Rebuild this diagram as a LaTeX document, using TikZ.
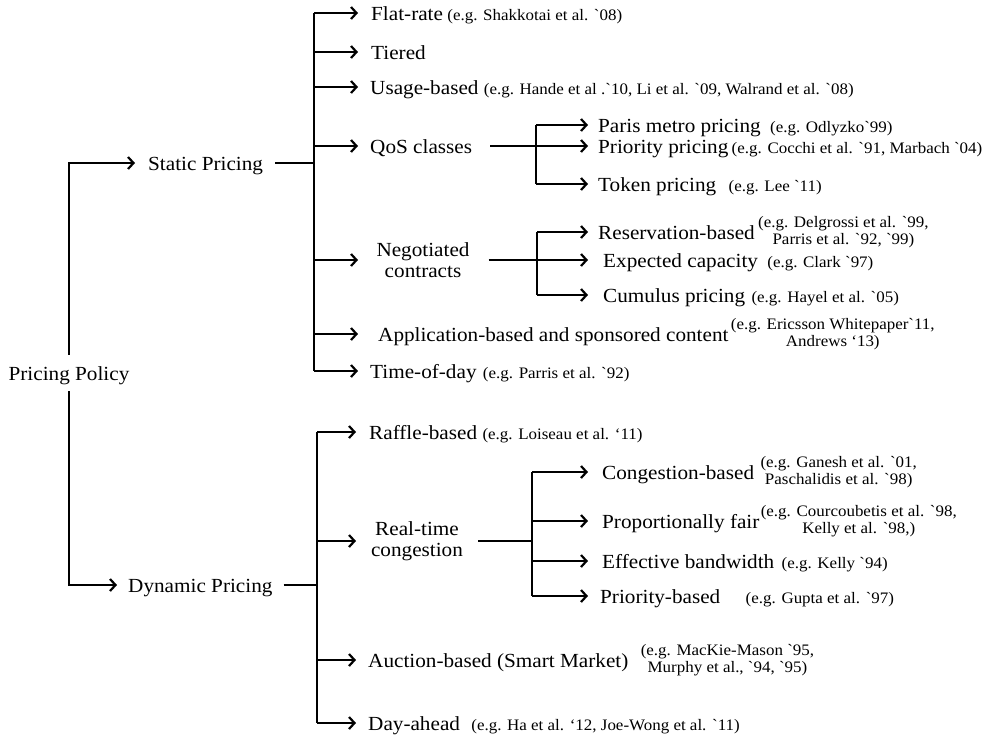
\documentclass[tikz,border=0pt]{standalone}
\usepackage{fontspec}
\newfontfamily\cf[FakeStretch=1.06]{Liberation Serif}
\usetikzlibrary{arrows.meta}
\tikzset{
  lab/.style={inner sep=0pt, anchor=west, font=\cf\fontsize{20}{21.5}\selectfont, text height=16pt, text depth=1pt},
  labtwo/.style={inner sep=0pt, align=center, font=\cf\fontsize{20}{21.5}\selectfont},
  cite/.style={inner sep=0pt, anchor=base west, font=\cf\fontsize{16}{17}\selectfont},
  citeb/.style={inner sep=0pt, anchor=west, align=center, font=\cf\fontsize{16}{16.5}\selectfont},
  thinl/.style={line width=1.3pt},
  trunk/.style={line width=2.1pt},
  arr/.style={line width=1.3pt, -{Straight Barb[length=5.5pt,width=12pt,line width=2.2pt]}},
}
\begin{document}
\begin{tikzpicture}[x=1pt,y=-1pt]
\fill[white] (0,0) rectangle (987,734);
\useasboundingbox (0,0) rectangle (987,734);

% root and first level
\node[lab, anchor=center, inner ysep=9.5pt] (pp) at (69,373) {Pricing Policy};
\node[lab] (static) at (148,163) {Static Pricing};
\node[lab] (dyn) at (128,585) {Dynamic Pricing};

% bus coordinates and arrow tip columns
\coordinate (sbus) at (314,163);
\coordinate (dbus) at (317,585);
\coordinate (tipS) at (358,0);
\coordinate (tipD) at (356,0);
\coordinate (tipQ) at (588,0);
\coordinate (qbus) at (536,146);
\coordinate (nbus) at (537,260);
\coordinate (rbus) at (532,541);

% static branches
\node[lab] (flat) at (371,13) {Flat-rate};
\node[lab] (tiered) at (371,52) {Tiered};
\node[lab] (usage) at (370,87) {Usage-based};
\node[lab] (qos) at (370,146) {QoS classes};
\node[labtwo] (nego) at (423,260) {Negotiated\\contracts};
\node[lab] (app) at (378,334) {Application-based and sponsored content};
\node[lab] (tod) at (370,371) {Time-of-day};

\node[lab] (paris) at (598,125) {Paris metro pricing};
\node[lab] (prio) at (598,146) {Priority pricing};
\node[lab] (token) at (598,184) {Token pricing};
\node[lab] (resv) at (598,232) {Reservation-based};
\node[lab] (expc) at (603,260) {Expected capacity};
\node[lab] (cumu) at (603,295) {Cumulus pricing};

% dynamic branches
\node[lab] (raffle) at (369,432) {Raffle-based};
\node[labtwo] (rtc) at (417,541) {Real-time\\congestion};
\node[lab] (auction) at (368,660) {Auction-based (Smart Market)};
\node[lab] (dayahead) at (368,723) {Day-ahead};
\node[lab] (cong) at (602,472) {Congestion-based};
\node[lab] (prop) at (602,521) {Proportionally fair};
\node[lab] (effb) at (602,561) {Effective bandwidth};
\node[lab] (prib) at (600,596) {Priority-based};

% citations
\node[cite] (flatc) at ([xshift=4pt]flat.base east) {(e.g. Shakkotai et al. `08)};
\node[cite] (usagec) at ([xshift=5pt]usage.base east) {(e.g. Hande et al .`10, Li et al. `09, Walrand et al. `08)};
\node[cite] (parisc) at ([xshift=9pt]paris.base east) {(e.g. Odlyzko`99)};
\node[cite] (prioc) at ([xshift=3pt]prio.base east) {(e.g. Cocchi et al. `91, Marbach `04)};
\node[cite] (tokenc) at ([xshift=12pt]token.base east) {(e.g. Lee `11)};
\node[citeb] (resvc) at ([xshift=3pt]resv.east) {(e.g. Delgrossi et al. `99,\\Parris et al. `92, `99)};
\node[cite] (expcc) at ([xshift=9pt]expc.base east) {(e.g. Clark `97)};
\node[cite] (cumuc) at ([xshift=6pt]cumu.base east) {(e.g. Hayel et al. `05)};
\node[citeb] (appc) at ([xshift=2pt]app.east) {(e.g. Ericsson Whitepaper`11,\\Andrews ‘13)};
\node[cite] (todc) at ([xshift=6pt]tod.base east) {(e.g. Parris et al. `92)};
\node[cite] (rafflec) at ([xshift=5pt]raffle.base east) {(e.g. Loiseau et al. ‘11)};
\node[citeb] (congc) at ([xshift=6pt]cong.east) {(e.g. Ganesh et al. `01,\\Paschalidis et al. `98)};
\node[citeb] (propc) at ([xshift=1pt]prop.east) {(e.g. Courcoubetis et al. `98,\\Kelly et al. `98,)};
\node[cite] (effbc) at ([xshift=7pt]effb.base east) {(e.g. Kelly `94)};
\node[cite] (pribc) at ([xshift=25pt]prib.base east) {(e.g. Gupta et al. `97)};
\node[citeb] (auctionc) at ([xshift=12pt]auction.east) {(e.g. MacKie-Mason `95,\\Murphy et al., `94, `95)};
\node[cite] (dayaheadc) at ([xshift=11pt]dayahead.base east) {(e.g. Ha et al. ‘12, Joe-Wong et al. `11)};

% connectors from root
\draw[arr] (pp.north) |- ([xshift=-13pt]static.west);
\draw[arr] (pp.south) |- ([xshift=-11pt]dyn.west);

% static tree
\draw[trunk] ([xshift=12pt]static.east) -- (sbus);
\draw[trunk] (sbus |- flat) -- (sbus |- tod);
\foreach \n in {flat,tiered,usage,qos,nego,app,tod}
  \draw[arr] (sbus |- \n) -- (\n.west -| tipS);

\draw[trunk] ([xshift=18pt]qos.east) -- (qbus);
\draw[thinl] (qbus |- paris) -- (qbus |- token);
\foreach \n in {paris,prio,token}
  \draw[arr] (qbus |- \n) -- (\n.west -| tipQ);

\draw[trunk] ([xshift=19pt]nego.east) -- (nbus);
\draw[thinl] (nbus |- resv) -- (nbus |- cumu);
\foreach \n in {resv,expc,cumu}
  \draw[arr] (nbus |- \n) -- (\n.west -| tipQ);

% dynamic tree
\draw[trunk] ([xshift=11pt]dyn.east) -- (dbus);
\draw[line width=1.6pt] (dbus |- raffle) -- (dbus |- dayahead);
\foreach \n in {raffle,rtc,auction,dayahead}
  \draw[arr] (dbus |- \n) -- (\n.west -| tipD);

\draw[trunk] ([xshift=15pt]rtc.east) -- (rbus);
\draw[thinl] (rbus |- cong) -- (rbus |- prib);
\foreach \n in {cong,prop,effb,prib}
  \draw[arr] (rbus |- \n) -- (\n.west -| tipQ);
\end{tikzpicture}
\end{document}
